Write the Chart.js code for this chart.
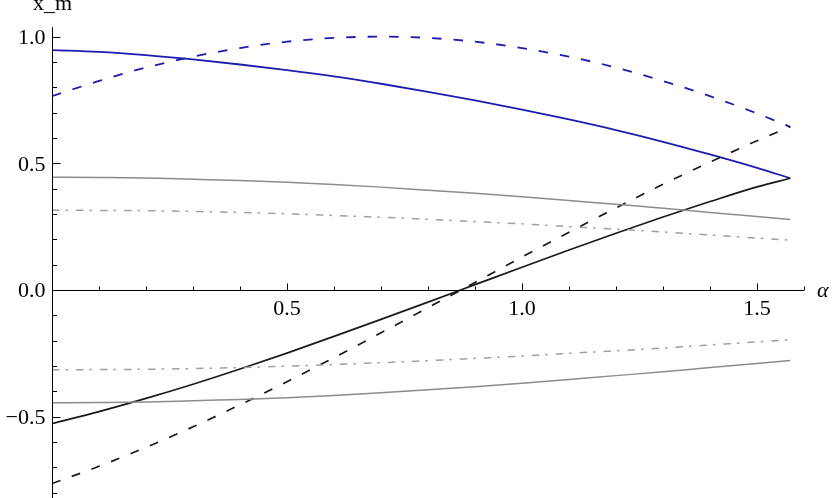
<!DOCTYPE html>
<html>
<head>
<meta charset="utf-8">
<script src="https://cdn.jsdelivr.net/npm/chart.js@4/dist/chart.umd.min.js"></script>
<style>
  body { margin: 0; background: #fff; }
  canvas { display: block; }
</style>
</head>
<body>
<canvas id="xmChart" width="835" height="498"></canvas>
<script>
// valores (eixo x = alpha, de 0 a pi/2)
const alpha = [0, 0.1, 0.2, 0.3, 0.4, 0.5, 0.6, 0.7, 0.8, 0.9, 1.0, 1.1, 1.2, 1.3, 1.4, 1.5, 1.5708];

const blueSolid   = [0.947, 0.940, 0.927, 0.910, 0.890, 0.868, 0.843, 0.814, 0.782, 0.748, 0.712, 0.673, 0.631, 0.585, 0.535, 0.482, 0.441];
const blueDashed  = [0.765, 0.825, 0.878, 0.921, 0.955, 0.980, 0.995, 1.000, 0.995, 0.980, 0.955, 0.921, 0.878, 0.825, 0.765, 0.697, 0.644];
const blackSolid  = [-0.527, -0.480, -0.428, -0.372, -0.312, -0.249, -0.183, -0.116, -0.048, 0.021, 0.090, 0.158, 0.224, 0.288, 0.349, 0.407, 0.441];
const blackDashed = [-0.764, -0.696, -0.621, -0.540, -0.453, -0.362, -0.267, -0.169, -0.070, 0.030, 0.130, 0.228, 0.324, 0.417, 0.505, 0.589, 0.644];
const grayUpper        = [0.445, 0.444, 0.442, 0.437, 0.432, 0.425, 0.416, 0.406, 0.394, 0.382, 0.368, 0.353, 0.338, 0.323, 0.306, 0.290, 0.278];
const grayDashDotUpper = [0.315, 0.314, 0.313, 0.310, 0.306, 0.301, 0.294, 0.287, 0.279, 0.270, 0.261, 0.250, 0.240, 0.229, 0.217, 0.205, 0.197];
const grayLower        = [-0.445, -0.444, -0.442, -0.437, -0.432, -0.425, -0.416, -0.406, -0.394, -0.382, -0.368, -0.353, -0.338, -0.323, -0.306, -0.290, -0.278];
const grayDashDotLower = [-0.315, -0.314, -0.313, -0.310, -0.306, -0.301, -0.294, -0.287, -0.279, -0.270, -0.261, -0.250, -0.240, -0.229, -0.217, -0.205, -0.197];

// rótulos dos eixos
const xTickValues = [0.5, 1.0, 1.5];
const xTickLabels = ['0.5', '1.0', '1.5'];
const yTickValues = [1.0, 0.5, 0.0, -0.5];
const yTickLabels = ['1.0', '0.5', '0.0', '\u22120.5'];
const xAxisTitle = '\u03b1';
const yAxisTitle = 'x_m';

const FONT = '22px "Liberation Serif", "DejaVu Serif", serif';
const BLUE = '#1c1cae';
const BLACK = '#1a1a1a';
const GRAY = '#8c8c8c';
const GRAY_LIGHT = '#a0a0a0';

function pts(ys) {
  return alpha.map((a, i) => ({ x: a, y: ys[i] }));
}

function serie(label, ys, color, dash, width) {
  return {
    label: label,
    data: pts(ys),
    borderColor: color,
    borderWidth: width,
    borderDash: dash,
    pointRadius: 0,
    fill: false,
    cubicInterpolationMode: 'monotone'
  };
}

// eixos no estilo Mathematica (cruzando na origem, marcas para dentro)
const axesPlugin = {
  id: 'axesPlugin',
  afterDatasetsDraw(chart) {
    const ctx = chart.ctx;
    const xs = chart.scales.x;
    const ys = chart.scales.y;
    const x0 = Math.round(xs.getPixelForValue(0)) + 0.5;
    const y0 = Math.round(ys.getPixelForValue(0)) + 0.5;

    ctx.save();
    ctx.strokeStyle = '#000';
    ctx.lineWidth = 1;
    ctx.beginPath();
    ctx.moveTo(x0, chart.chartArea.top);
    ctx.lineTo(x0, chart.chartArea.bottom);
    ctx.moveTo(chart.chartArea.left, y0);
    ctx.lineTo(chart.chartArea.right, y0);

    // marcas do eixo x a cada 0.1
    for (let k = 1; k <= 16; k++) {
      const v = k / 10;
      const px = Math.round(xs.getPixelForValue(v)) + 0.5;
      const len = (k % 5 === 0) ? 7 : 4;
      ctx.moveTo(px, y0);
      ctx.lineTo(px, y0 - len);
    }
    // marcas do eixo y a cada 0.1
    for (let k = -8; k <= 10; k++) {
      if (k === 0) continue;
      const v = k / 10;
      const py = Math.round(ys.getPixelForValue(v)) + 0.5;
      const len = (k % 5 === 0) ? 8 : 4.5;
      ctx.moveTo(x0, py);
      ctx.lineTo(x0 + len, py);
    }
    ctx.stroke();

    ctx.fillStyle = '#000';
    ctx.font = FONT;
    ctx.textBaseline = 'alphabetic';
    ctx.textAlign = 'center';
    xTickValues.forEach((v, i) => {
      ctx.fillText(xTickLabels[i], xs.getPixelForValue(v), y0 + 24);
    });
    ctx.textAlign = 'right';
    yTickValues.forEach((v, i) => {
      ctx.fillText(yTickLabels[i], x0 - 7, ys.getPixelForValue(v) + 7.5);
    });

    ctx.textAlign = 'center';
    ctx.fillText(yAxisTitle, x0, 10);
    ctx.textAlign = 'left';
    ctx.font = 'italic ' + FONT;
    ctx.fillText(xAxisTitle, chart.chartArea.right + 13, y0 + 6);
    ctx.restore();
  }
};

new Chart(document.getElementById('xmChart').getContext('2d'), {
  type: 'line',
  data: {
    datasets: [
      serie('gray upper', grayUpper, GRAY, [], 1.5),
      serie('gray dash-dot upper', grayDashDotUpper, GRAY_LIGHT, [7.5, 6, 2.5, 8], 1.5),
      serie('gray lower', grayLower, GRAY, [], 1.5),
      serie('gray dash-dot lower', grayDashDotLower, GRAY_LIGHT, [7.5, 6, 2.5, 8], 1.5),
      serie('black solid', blackSolid, BLACK, [], 1.7),
      serie('black dashed', blackDashed, BLACK, [9, 12], 1.7),
      serie('blue solid', blueSolid, BLUE, [], 1.8),
      serie('blue dashed', blueDashed, BLUE, [9.5, 12], 1.8)
    ]
  },
  options: {
    responsive: false,
    animation: false,
    layout: { padding: { left: 52, right: 31, top: 27, bottom: 0 } },
    scales: {
      x: { type: 'linear', min: 0, max: 1.6, display: false },
      y: { type: 'linear', min: -0.821, max: 1.038, display: false }
    },
    plugins: {
      legend: { display: false },
      tooltip: { enabled: false }
    }
  },
  plugins: [axesPlugin]
});
</script>
</body>
</html>
